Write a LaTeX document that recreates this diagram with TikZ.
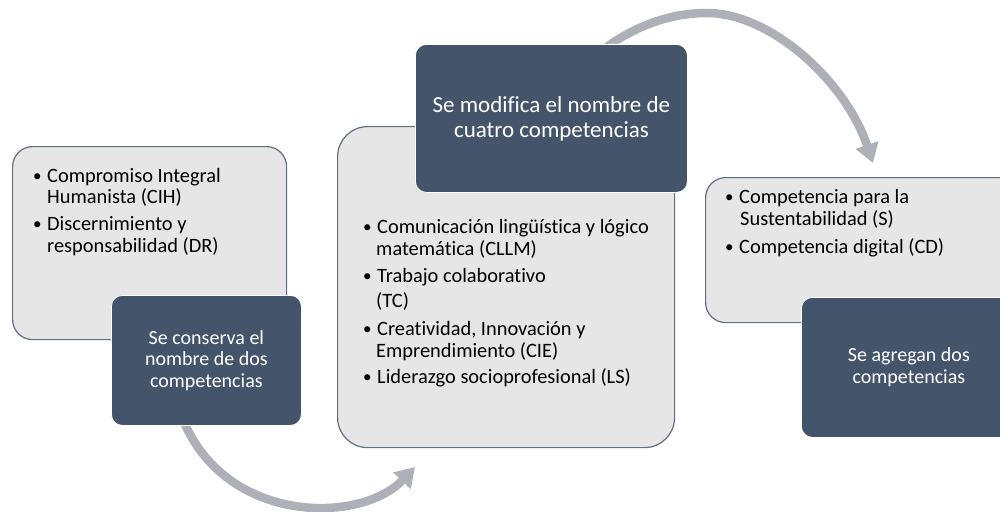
\documentclass[tikz,border=0pt]{standalone}
\usepackage{fontspec}
\setmainfont{Carlito}[Ligatures=NoCommon]
\usetikzlibrary{arrows.meta}
\definecolor{darkfill}{HTML}{44546A}
\definecolor{lightfill}{HTML}{E7E6E6}
\definecolor{lightborder}{HTML}{5F6F85}
\definecolor{arrowgray}{HTML}{ADB0B7}
\newcommand{\itembul}{\makebox[14pt][l]{\raisebox{0.5pt}{\fontsize{17}{17}\selectfont•}}}
\tikzset{
  lightpanel/.style={draw=lightborder, line width=1.2pt, fill=lightfill, rounded corners=#1,
    anchor=north west, inner sep=0pt},
  darkpanel/.style={draw=white, line width=0.8pt, fill=darkfill, rounded corners=11pt,
    anchor=north west, inner sep=0pt, text=white, align=center,
    font=\fontsize{20}{21.5}\selectfont},
  line/.style={anchor=base west, inner sep=0pt, text=black, font=\fontsize{20.4}{22}\selectfont},
  bigarrow/.style={draw=arrowgray, line width=8.5pt,
    -{Triangle[width=23pt,length=19pt]}},
}
\begin{document}
\begin{tikzpicture}[x=1pt,y=-1pt]
\useasboundingbox (0,0) rectangle (1000,511);
\clip (0,0) rectangle (1000,511);

% arrows (behind the panels)
\coordinate (a1s) at (180,412);
\coordinate (a1e) at (415,467);
\draw[bigarrow] (a1s) .. controls (220,525) and (360,525) .. (a1e);
\coordinate (a2s) at (600,52);
\coordinate (a2m) at (707,13);
\coordinate (a2e) at (873,163);
\draw[bigarrow] (a2s) .. controls (628,30) and (665,13) .. (a2m)
  .. controls (770,13) and (845,80) .. (a2e);

% left panel
\node[lightpanel=20pt, minimum width=274pt, minimum height=193pt] (lp) at (12,146) {};
\node[line] (l1) at (33,182) {\itembul Compromiso Integral};
\node[line] (l2) at (47,203) {Humanista (CIH)};
\node[line] (l3) at (33,230) {\itembul Discernimiento y};
\node[line] (l4) at (47,252) {responsabilidad (DR)};
\node[darkpanel, minimum width=190pt, minimum height=130pt] (ld) at (111,295)
  {Se conserva el\\nombre de dos\\competencias};

% middle panel
\node[lightpanel=30pt, minimum width=337pt, minimum height=321pt] (mp) at (337,126) {};
\node[darkpanel, minimum width=272pt, minimum height=148pt,
  font=\fontsize{23}{25}\selectfont] (md) at (415,44)
  {Se modifica el nombre de\\cuatro competencias};
\node[line] (m1) at (363,233) {\itembul Comunicación lingüística y lógico};
\node[line] (m2) at (376,255) {matemática (CLLM)};
\node[line] (m3) at (363,282) {\itembul Trabajo colaborativo};
\node[line] (m4) at (376,307) {(TC)};
\node[line] (m5) at (363,335) {\itembul Creatividad, Innovación y};
\node[line] (m6) at (376,357) {Emprendimiento (CIE)};
\node[line] (m7) at (363,383) {\itembul Liderazgo socioprofesional (LS)};

% right panel
\node[lightpanel=20pt, minimum width=320pt, minimum height=145pt] (rp) at (705,177) {};
\node[line] (r1) at (725,203) {\itembul Competencia para la};
\node[line] (r2) at (740,225) {Sustentabilidad (S)};
\node[line] (r3) at (725,253) {\itembul Competencia digital (CD)};
\node[darkpanel, minimum width=215pt, minimum height=140pt] (rd) at (801,297)
  {Se agregan dos\\competencias};
\end{tikzpicture}
\end{document}
